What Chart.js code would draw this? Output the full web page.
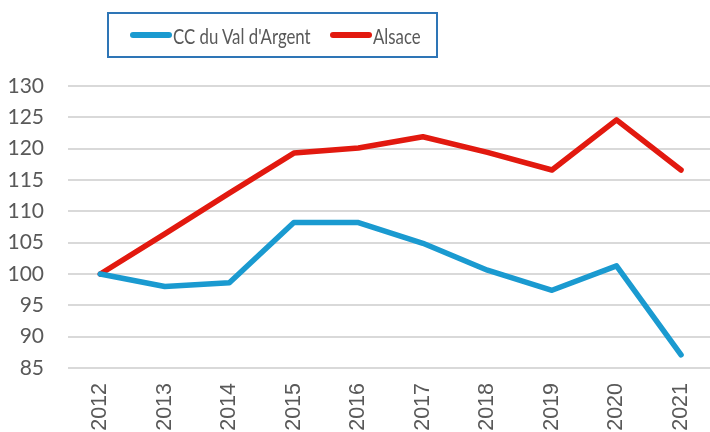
<!DOCTYPE html>
<html lang="fr">
<head>
  <meta charset="UTF-8" />
  <title>CC du Val d'Argent / Alsace</title>
  <script src="https://cdn.jsdelivr.net/npm/chart.js"></script>
  <style>
    body { margin: 0; background: #fff; overflow: hidden; width: 710px; height: 432px; }
    #wrap { position: absolute; left: 0; top: 0; width: 722px; height: 450px; }
    #legend {
      position: absolute; left: 107px; top: 12px; width: 327px; height: 42px;
      border: 2px solid #2e75b6;
      font-family: Lato, sans-serif; font-size: 21px; color: #595959;
    }
    .item { position: absolute; top: 0; height: 42px; display: flex; align-items: center; }
    .swatch { width: 42px; height: 6px; border-radius: 3px; margin-right: 1px; }
    .txt { display: inline-block; transform: scaleX(0.8); transform-origin: left center; white-space: nowrap; }
  </style>
</head>
<body>
  <div id="wrap"><canvas id="chart"></canvas></div>
  <div id="legend"></div>

  <script>
    // Données (indice base 100 en 2012)
    const years = ['2012', '2013', '2014', '2015', '2016', '2017', '2018', '2019', '2020', '2021'];
    const valArgent = [100, 98.0, 98.6, 108.2, 108.2, 104.9, 100.6, 97.4, 101.3, 87.1];
    const alsace = [100, 106.4, 112.9, 119.3, 120.1, 121.9, 119.4, 116.6, 124.6, 116.6];
    const seriesNames = ["CC du Val d'Argent", 'Alsace'];
    const seriesColors = ['#1a9ad0', '#e2190f'];

    // Légende
    const legendX = [21, 221];
    document.getElementById('legend').innerHTML = seriesNames.map((n, i) => `
      <div class="item" style="left:${legendX[i]}px">
        <span class="swatch" style="background:${seriesColors[i]}"></span><span class="txt">${n}</span>
      </div>
    `).join('');

    new Chart(document.getElementById('chart'), {
      type: 'line',
      data: {
        labels: years,
        datasets: [
          { label: seriesNames[0], data: valArgent, borderColor: seriesColors[0] },
          { label: seriesNames[1], data: alsace, borderColor: seriesColors[1] }
        ]
      },
      options: {
        responsive: true,
        maintainAspectRatio: false,
        animation: false,
        layout: { padding: { top: 86, right: 3, left: 0, bottom: 0 } },
        elements: {
          line: { borderWidth: 5.5, borderCapStyle: 'round', borderJoinStyle: 'round', tension: 0 },
          point: { radius: 0 }
        },
        plugins: { legend: { display: false }, tooltip: { enabled: false } },
        scales: {
          x: {
            offset: true,
            grid: { display: false, drawTicks: false },
            border: { display: false },
            ticks: {
              minRotation: 90, maxRotation: 90, padding: 15,
              color: '#595959', font: { family: 'Liberation Sans', size: 21.5 }
            },
            afterFit: s => { s.height = 82; }
          },
          y: {
            min: 85, max: 130,
            grid: { color: '#d9d9d9', lineWidth: 2, drawTicks: false },
            border: { display: false },
            ticks: {
              stepSize: 5, padding: 24,
              color: '#595959', font: { family: 'Lato', size: 21 }
            },
            afterFit: s => { s.width = 68; }
          }
        }
      }
    });
  </script>
</body>
</html>
